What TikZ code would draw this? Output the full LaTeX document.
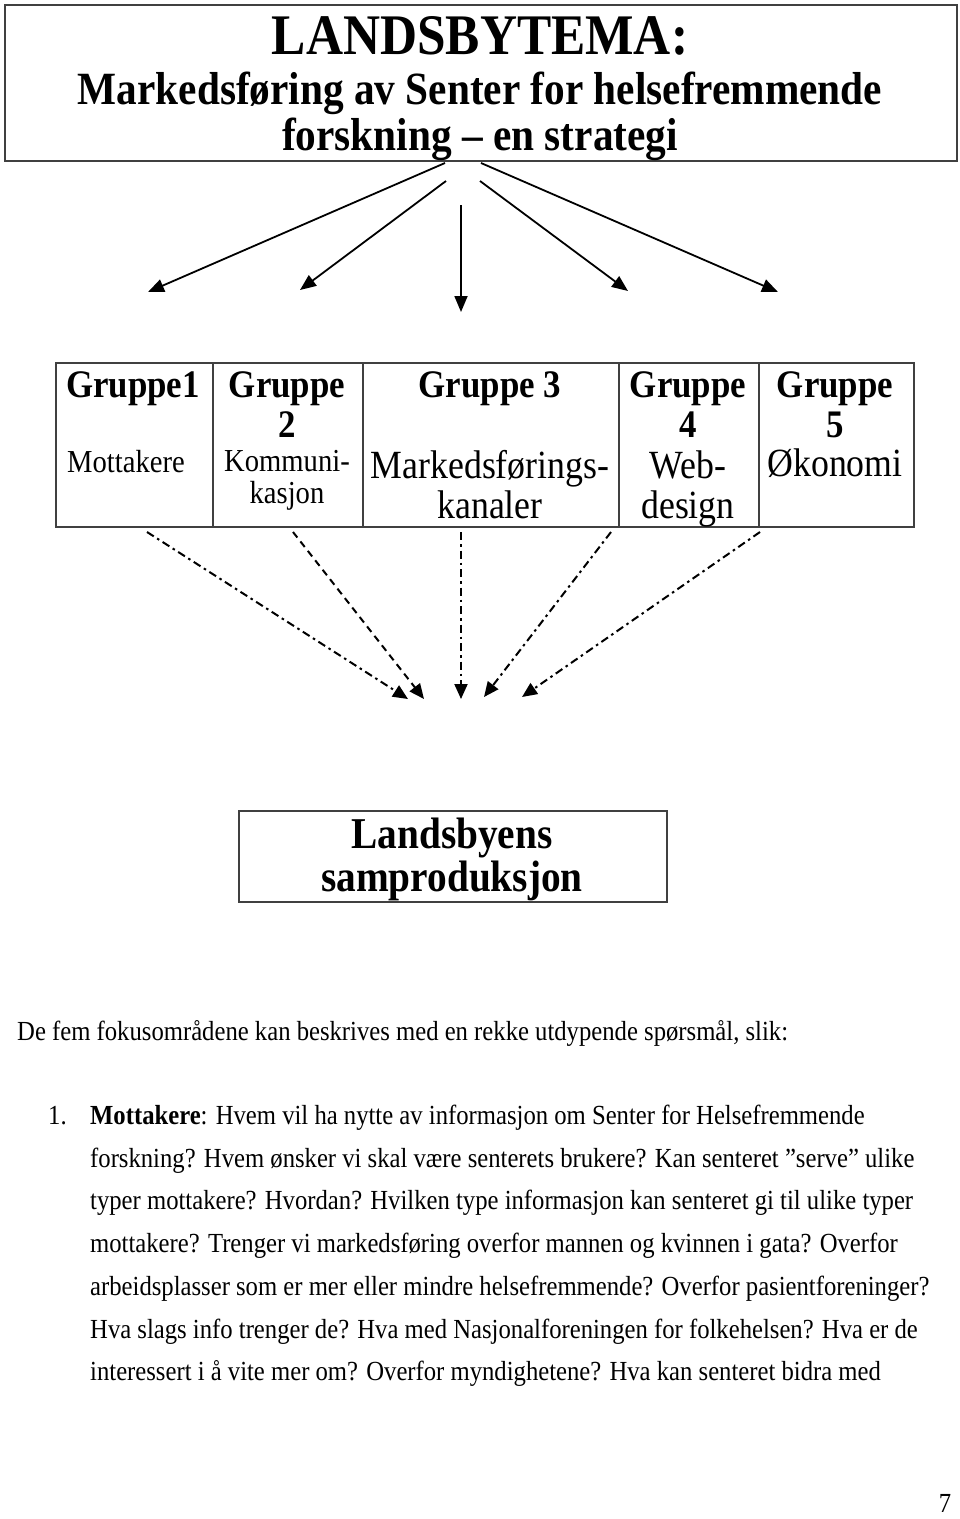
\documentclass[tikz,border=0pt]{standalone}
\usepackage{fontspec}
\setmainfont{Liberation Serif}[FakeStretch=0.894]
\usetikzlibrary{arrows.meta}
\newcommand\fsz[1]{\fontsize{#1}{#1}\selectfont}
\begin{document}
\begin{tikzpicture}[x=1pt,y=-1pt,
  lbl/.style={inner sep=0pt, anchor=base},
  lblw/.style={inner sep=0pt, anchor=base west},
  body/.style={inner sep=0pt, anchor=base west, font=\fsz{27.6}},
  bx/.style={draw=black!75, line width=1.6pt, inner sep=0pt, anchor=north west},
  arr/.style={line width=1.8pt, -{Triangle[length=16pt,width=13pt]}},
  dd/.style={line width=2pt, dash pattern=on 8pt off 4pt on 2.5pt off 4pt, -{Triangle[length=15pt,width=13pt]}},
  ds/.style={line width=2pt, dash pattern=on 7pt off 5pt, -{Triangle[length=15pt,width=13pt]}}]
\useasboundingbox[fill=white] (0,0) rectangle (960,1519);

% title box
\node[bx, minimum width=952pt, minimum height=156pt] (title) at (4,4) {};
\node[lbl] (t1) at (480,54) {\fsz{57.4}\bfseries LANDSBYTEMA:};
\node[lbl] (t2) at (480,104) {\fsz{46.2}\bfseries Markedsføring av Senter for helsefremmende};
\node[lbl] (t3) at (480,150) {\fsz{46.2}\bfseries forskning – en strategi};

% group boxes
\node[bx, minimum width=157pt, minimum height=164pt] (g1) at (55,362) {};
\node[bx, minimum width=150pt, minimum height=164pt] (g2) at (212,362) {};
\node[bx, minimum width=256pt, minimum height=164pt] (g3) at (362,362) {};
\node[bx, minimum width=140pt, minimum height=164pt] (g4) at (618,362) {};
\node[bx, minimum width=155pt, minimum height=164pt] (g5) at (758,362) {};

\node[lbl] (g1a) at (133,397) {\fsz{39}\bfseries Gruppe1};
\node[lbl] (g1b) at (126,472) {\fsz{32}Mottakere};

\node[lbl] (g2a) at (287,397) {\fsz{39}\bfseries Gruppe};
\node[lbl] (g2b) at (287,437) {\fsz{39}\bfseries 2};
\node[lbl] (g2c) at (287,471) {\fsz{32}Kommuni-};
\node[lbl] (g2d) at (287,503) {\fsz{32}kasjon};

\node[lbl] (g3a) at (490,397) {\fsz{39}\bfseries Gruppe 3};
\node[lbl] (g3b) at (490,478) {\fsz{40}Markedsførings-};
\node[lbl] (g3c) at (490,518) {\fsz{40}kanaler};

\node[lbl] (g4a) at (688,397) {\fsz{39}\bfseries Gruppe};
\node[lbl] (g4b) at (688,437) {\fsz{39}\bfseries 4};
\node[lbl] (g4c) at (688,478) {\fsz{40}Web-};
\node[lbl] (g4d) at (688,518) {\fsz{40}design};

\node[lbl] (g5a) at (835,397) {\fsz{39}\bfseries Gruppe};
\node[lbl] (g5b) at (835,437) {\fsz{39}\bfseries 5};
\node[lbl] (g5c) at (835,476) {\fsz{40}Økonomi};

% Landsbyens box
\node[bx, minimum width=428pt, minimum height=91pt] (lb) at (238,810) {};
\node[lbl] (lb1) at (452,848) {\fsz{44}\bfseries Landsbyens};
\node[lbl] (lb2) at (452,891) {\fsz{44}\bfseries samproduksjon};

% top arrow coordinates
\coordinate (s1) at (445,163);
\coordinate (s2) at (446,181);
\coordinate (s3) at (461,205);
\coordinate (s4) at (480,181);
\coordinate (s5) at (481,163);
\coordinate (e1) at (148,292);
\coordinate (e2) at (300,290);
\coordinate (e3) at (461,312);
\coordinate (e4) at (628,291);
\coordinate (e5) at (778,292);
\draw[arr] (s1) -- (e1);
\draw[arr] (s2) -- (e2);
\draw[arr] (s3) -- (e3);
\draw[arr] (s4) -- (e4);
\draw[arr] (s5) -- (e5);

% dashed arrows
\coordinate (d1) at (147,532);
\coordinate (d2) at (293,532);
\coordinate (d3) at (461,532);
\coordinate (d4) at (611,532);
\coordinate (d5) at (760,532);
\coordinate (f1) at (408,699);
\coordinate (f2) at (424,699);
\coordinate (f3) at (461,699);
\coordinate (f4) at (484,697);
\coordinate (f5) at (522,697);
\draw[dd] (d1) -- (f1);
\draw[ds] (d2) -- (f2);
\draw[dd] (d3) -- (f3);
\draw[dd] (d4) -- (f4);
\draw[dd] (d5) -- (f5);

% body text
\node[body] (p0) at (17,1040) {De fem fokusområdene kan beskrives med en rekke utdypende spørsmål, slik:};
\node[body] (n1) at (48,1124) {1.};
\node[body] (p1) at (90,1124) {\textbf{Mottakere}: Hvem vil ha nytte av informasjon om Senter for Helsefremmende};
\node[body] (p2) at (90,1167) {forskning? Hvem ønsker vi skal være senterets brukere? Kan senteret ”serve” ulike};
\node[body] (p3) at (90,1209) {typer mottakere? Hvordan? Hvilken type informasjon kan senteret gi til ulike typer};
\node[body] (p4) at (90,1252) {mottakere? Trenger vi markedsføring overfor mannen og kvinnen i gata? Overfor};
\node[body] (p5) at (90,1295) {arbeidsplasser som er mer eller mindre helsefremmende? Overfor pasientforeninger?};
\node[body] (p6) at (90,1338) {Hva slags info trenger de? Hva med Nasjonalforeningen for folkehelsen? Hva er de};
\node[body] (p7) at (90,1380) {interessert i å vite mer om? Overfor myndighetene? Hva kan senteret bidra med};

\node[lbl] (pg) at (945,1512) {\fsz{27.6}7};
\end{tikzpicture}
\end{document}
